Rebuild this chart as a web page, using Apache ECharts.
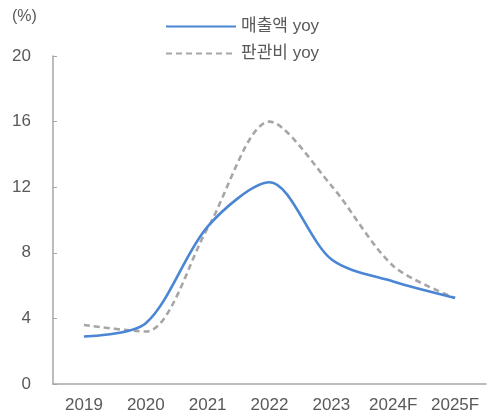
<!DOCTYPE html>
<html><head><meta charset="utf-8">
<script src="https://cdn.jsdelivr.net/npm/echarts@6/dist/echarts.min.js"></script>
<style>html,body{margin:0;padding:0;background:#fff}#c{width:490px;height:416px}</style>
</head><body><div id="c"></div>
<script>
const categories = ['2019','2020','2021','2022','2023','2024F','2025F'];
const salesYoy = [2.9, 3.7, 9.6, 12.3, 7.6, 6.25, 5.25];
const sgaYoy = [3.6, 3.2, 9.5, 16.0, 12.1, 7.2, 5.25];
const yTicks = [0, 4, 8, 12, 16, 20];
const seriesNames = ['매출액 yoy', '판관비 yoy'];

const font = 'Arial, "Liberation Sans", "Noto Sans CJK KR", sans-serif';
const txt = '#595959';
const chart = echarts.init(document.getElementById('c'), null, {renderer: 'canvas'});
chart.setOption({
  animation: false,
  textStyle: {fontFamily: font},
  grid: {left: 53, right: 4, top: 56, bottom: 32, containLabel: false},
  graphic: [{type: 'text', left: 12, top: 9, style: {text: '(%)', fill: txt, font: '16px ' + font}}],
  legend: {
    orient: 'vertical', left: 160, top: 13, itemWidth: 70, itemHeight: 14, itemGap: 10,
    itemStyle: {opacity: 0},
    textStyle: {color: txt, fontSize: 17, fontFamily: font},
    data: seriesNames
  },
  xAxis: {
    type: 'category', data: categories, boundaryGap: true,
    axisLine: {lineStyle: {color: '#a6a6a6', width: 1.5}},
    axisTick: {inside: true, length: 5, lineStyle: {color: '#a6a6a6'}},
    axisLabel: {color: txt, fontSize: 17, margin: 13, fontFamily: font, interval: 0}
  },
  yAxis: {
    type: 'value', min: 0, max: 20, interval: 4,
    axisLine: {show: true, lineStyle: {color: '#a6a6a6', width: 1.5}},
    axisTick: {show: true, inside: true, length: 4, lineStyle: {color: '#a6a6a6'}},
    splitLine: {show: false},
    axisLabel: {color: txt, fontSize: 17, margin: 22, fontFamily: font,
      formatter: v => yTicks.includes(v) ? String(v) : ''}
  },
  series: [
    {name: seriesNames[0], type: 'line', data: salesYoy, smooth: 0.3, symbol: 'none',
     lineStyle: {color: '#4a86d4', width: 2.6}, itemStyle: {color: '#4a86d4'}, z: 3},
    {name: seriesNames[1], type: 'line', data: sgaYoy, smooth: 0.3, symbol: 'none',
     lineStyle: {color: '#a6a6a6', width: 2.6, type: [6, 4]}, itemStyle: {color: '#a6a6a6'}, z: 2}
  ]
});
</script></body></html>
